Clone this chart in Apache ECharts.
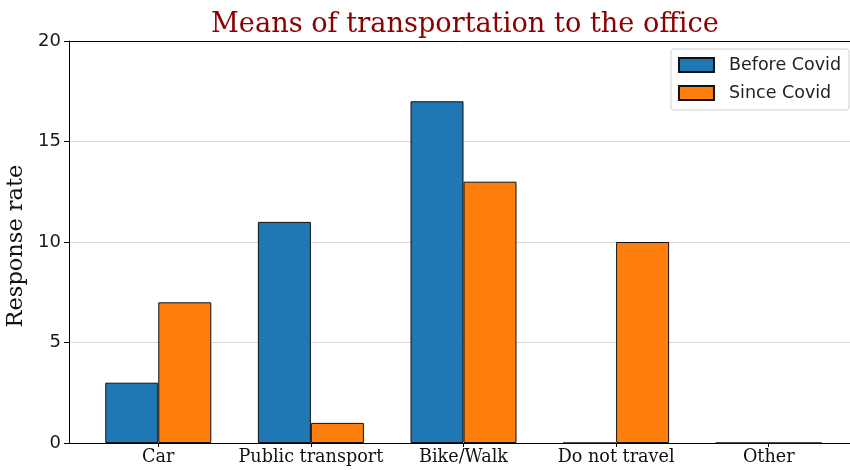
<!DOCTYPE html>
<html>
<head>
<meta charset="utf-8">
<script src="https://cdn.jsdelivr.net/npm/echarts@6/dist/echarts.min.js"></script>
<style>
  html, body { margin: 0; padding: 0; background: #fff; }
  #chart { width: 850px; height: 470px; }
</style>
</head>
<body>
<div id="chart"></div>
<script>
// values
const categories = ['Car', 'Public transport', 'Bike/Walk', 'Do not travel', 'Other'];
const beforeCovid = [3, 11, 17, 0, 0];
const sinceCovid = [7, 1, 13, 10, 0];
const yTicks = [0, 5, 10, 15, 20];

const positions = categories.map((c, i) => i);

const chart = echarts.init(document.getElementById('chart'));

const option = {
  animation: false,
  title: {
    text: 'Means of transportation to the office',
    left: 206,
    top: 6,
    textStyle: {
      fontFamily: 'DejaVu Serif',
      fontWeight: 'normal',
      fontSize: 27.2,
      color: '#8b0000'
    }
  },
  legend: {
    orient: 'vertical',
    right: 1,
    top: 49,
    icon: 'rect',
    itemWidth: 35,
    itemHeight: 14,
    itemGap: 10,
    padding: [7, 8, 8, 7],
    borderColor: '#d0d0d0',
    borderWidth: 1,
    borderRadius: 3,
    textStyle: {
      fontFamily: 'DejaVu Sans',
      fontSize: 17.5,
      color: '#222',
      lineHeight: 16,
      padding: [0, 0, 0, 10]
    },
    data: ['Before Covid', 'Since Covid']
  },
  grid: {
    left: 69,
    right: -8,
    top: 41,
    bottom: 27,
    outerBoundsMode: 'none',
    containLabel: false
  },
  xAxis: [
    {
      type: 'value',
      min: -0.585,
      max: 4.585,
      splitLine: { show: false },
      axisLine: { show: true, onZero: false, lineStyle: { color: '#000', width: 1 } },
      axisTick: {
        show: true,
        length: 4,
        customValues: positions,
        lineStyle: { color: '#000' }
      },
      axisLabel: {
        customValues: positions,
        margin: 5,
        fontFamily: 'DejaVu Serif',
        fontSize: 17.6,
        color: '#111',
        formatter: v => categories[Math.round(v)]
      }
    },
    {
      type: 'value',
      position: 'top',
      min: -0.585,
      max: 4.585,
      splitLine: { show: false },
      axisLine: { show: true, onZero: false, lineStyle: { color: '#000', width: 1 } },
      axisTick: { show: false },
      axisLabel: { show: false }
    }
  ],
  yAxis: {
    type: 'value',
    min: 0,
    max: 20,
    interval: 5,
    name: 'Response rate',
    nameLocation: 'middle',
    nameGap: 37,
    nameTextStyle: {
      fontFamily: 'DejaVu Serif',
      fontSize: 22.5,
      color: '#111',
      padding: [0, 8, 0, 0]
    },
    axisLine: { show: true, onZero: false, lineStyle: { color: '#000', width: 1 } },
    axisTick: { show: true, length: 5, lineStyle: { color: '#000' } },
    axisLabel: {
      margin: 8,
      fontFamily: 'DejaVu Sans',
      fontSize: 18,
      color: '#1a1a1a',
      formatter: v => (yTicks.includes(v) ? String(v) : '')
    },
    splitLine: { show: true, lineStyle: { color: '#d9d9d9', width: 1 } }
  },
  series: [
    {
      name: 'Before Covid',
      type: 'bar',
      xAxisIndex: 0,
      barWidth: 53,
      barGap: '0%',
      itemStyle: { color: '#1f77b4', borderColor: '#111', borderWidth: 1 },
      data: positions.map(i => [i, beforeCovid[i]])
    },
    {
      name: 'Since Covid',
      type: 'bar',
      xAxisIndex: 0,
      barWidth: 53,
      barGap: '0%',
      itemStyle: { color: '#ff7f0e', borderColor: '#111', borderWidth: 1 },
      data: positions.map(i => [i, sinceCovid[i]])
    }
  ]
};

chart.setOption(option);
</script>
</body>
</html>
